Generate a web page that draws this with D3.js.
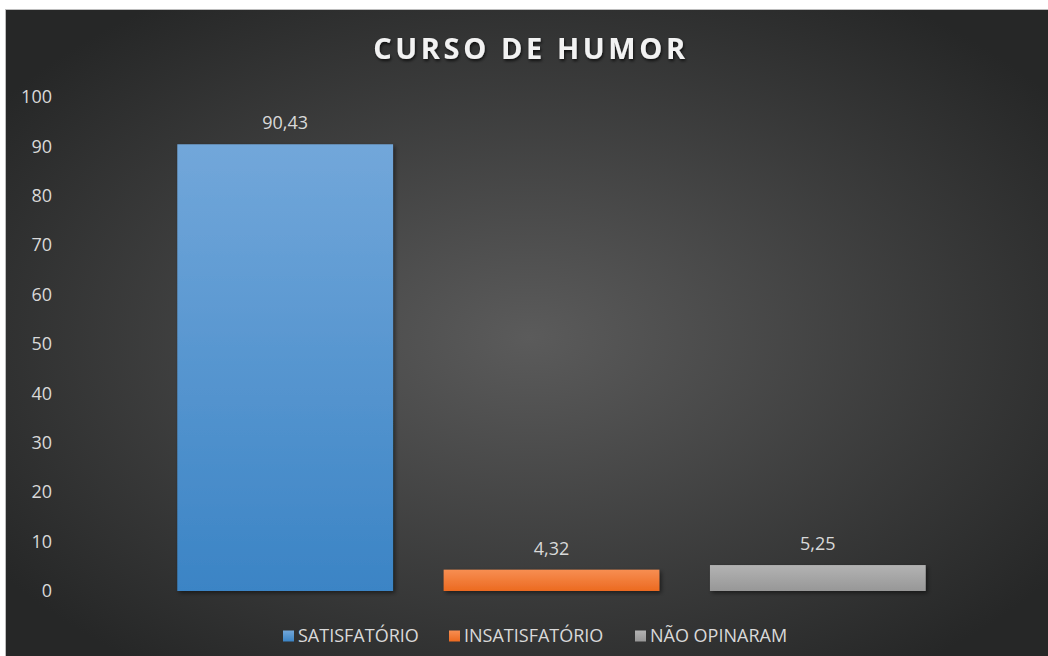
<!DOCTYPE html>
<html>
<head>
<meta charset="utf-8">
<script src="https://cdn.jsdelivr.net/npm/d3@7"></script>
<style>
  html, body { margin: 0; padding: 0; background: #fff; }
  svg { display: block; }
</style>
</head>
<body>
<div id="chart"></div>
<script>
const categories = ['SATISFATÓRIO', 'INSATISFATÓRIO', 'NÃO OPINARAM'];
const values = [90.43, 4.32, 5.25];
const valueLabels = ['90,43', '4,32', '5,25'];
const yTicks = [0, 10, 20, 30, 40, 50, 60, 70, 80, 90, 100];
const colors = [
  ['#72a7da', '#3b84c5'],
  ['#f78e52', '#ec6a20'],
  ['#b3b3b3', '#979797']
];

const width = 1048;
const height = 656;
const margin = {top: 97, right: 97, bottom: 65, left: 152};
const font = 'Open Sans, sans-serif';

const svg = d3.select('#chart')
  .append('svg')
  .attr('width', width)
  .attr('height', height)
  .attr('viewBox', [0, 0, width, height]);

const defs = svg.append('defs');

const bg = defs.append('radialGradient')
  .attr('id', 'bg')
  .attr('cx', '50%').attr('cy', '50%').attr('r', '62%');
bg.append('stop').attr('offset', '0%').attr('stop-color', '#5b5b5b');
bg.append('stop').attr('offset', '100%').attr('stop-color', '#262727');

colors.forEach((c, i) => {
  const g = defs.append('linearGradient')
    .attr('id', 'bar' + i)
    .attr('x1', 0).attr('y1', 0).attr('x2', 0).attr('y2', 1);
  g.append('stop').attr('offset', '0%').attr('stop-color', c[0]);
  g.append('stop').attr('offset', '100%').attr('stop-color', c[1]);
});

const shadow = defs.append('filter')
  .attr('id', 'shadow')
  .attr('x', '-10%').attr('y', '-10%').attr('width', '130%').attr('height', '130%');
shadow.append('feDropShadow')
  .attr('dx', 2).attr('dy', 2).attr('stdDeviation', 2)
  .attr('flood-color', '#000').attr('flood-opacity', 0.5);

const tshadow = defs.append('filter').attr('id', 'tshadow');
tshadow.append('feDropShadow')
  .attr('dx', 1).attr('dy', 2).attr('stdDeviation', 1.5)
  .attr('flood-color', '#000').attr('flood-opacity', 0.7);

// panel
svg.append('rect')
  .attr('x', 5.5).attr('y', 9.5)
  .attr('width', width).attr('height', height)
  .attr('fill', 'url(#bg)')
  .attr('stroke', '#bdbdbd')
  .attr('stroke-width', 1);

const x = d3.scaleBand()
  .domain(categories)
  .range([margin.left, width - margin.right])
  .paddingInner(0.19)
  .paddingOuter(0.095);

const y = d3.scaleLinear()
  .domain([0, 100])
  .range([height - margin.bottom, margin.top]);

// title
svg.append('text')
  .attr('x', 531)
  .attr('y', 59)
  .attr('text-anchor', 'middle')
  .attr('font-family', font)
  .attr('font-weight', 'bold')
  .attr('font-size', 29)
  .attr('letter-spacing', 3.6)
  .attr('fill', '#f2f2f2')
  .attr('filter', 'url(#tshadow)')
  .text('CURSO DE HUMOR');

// y axis
const yAxis = svg.append('g')
  .attr('transform', `translate(52,0)`)
  .call(d3.axisLeft(y).tickValues(yTicks).tickSize(0).tickPadding(0));
yAxis.select('.domain').remove();
yAxis.selectAll('text')
  .attr('font-family', font)
  .attr('font-size', 18)
  .attr('fill', '#d9d9d9');

// bars
svg.append('g')
  .selectAll('rect')
  .data(values)
  .join('rect')
  .attr('x', (d, i) => x(categories[i]))
  .attr('y', d => y(d))
  .attr('width', x.bandwidth())
  .attr('height', d => y(0) - y(d))
  .attr('fill', (d, i) => `url(#bar${i})`)
  .attr('filter', 'url(#shadow)');

// value labels
svg.append('g')
  .selectAll('text')
  .data(values)
  .join('text')
  .attr('x', (d, i) => x(categories[i]) + x.bandwidth() / 2)
  .attr('y', d => y(d) - 15)
  .attr('text-anchor', 'middle')
  .attr('font-family', font)
  .attr('font-size', 18)
  .attr('fill', '#d9d9d9')
  .text((d, i) => valueLabels[i]);

// legend
const legendX = [283, 449, 635];
const legend = svg.append('g')
  .selectAll('g')
  .data(categories)
  .join('g')
  .attr('transform', (d, i) => `translate(${legendX[i]},630)`);
legend.append('rect')
  .attr('y', 0.5)
  .attr('width', 11).attr('height', 11)
  .attr('fill', (d, i) => `url(#bar${i})`);
legend.append('text')
  .attr('x', 15)
  .attr('y', 12)
  .attr('font-family', font)
  .attr('font-size', 18)
  .attr('fill', '#d9d9d9')
  .text(d => d);
</script>
</body>
</html>
